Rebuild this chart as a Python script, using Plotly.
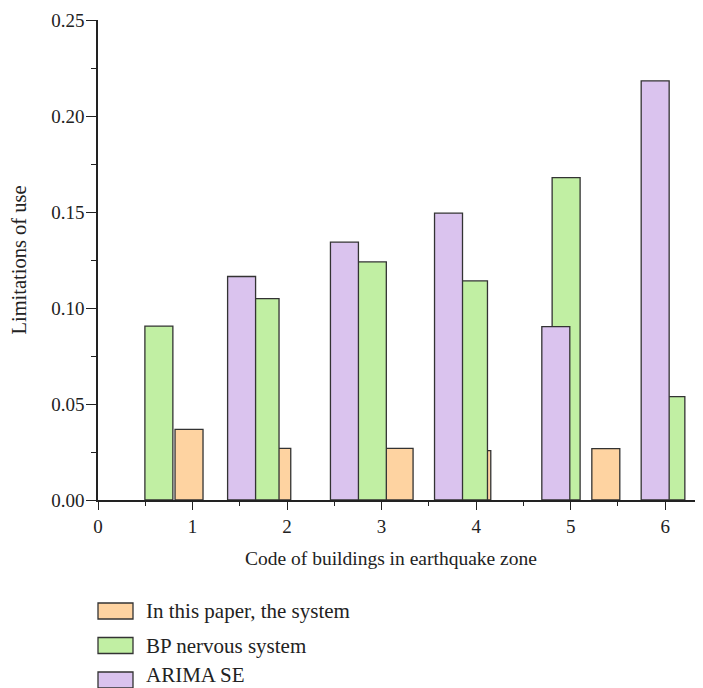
import plotly.graph_objects as go

# ---- data ----
series_names = ["In this paper, the system", "BP nervous system", "ARIMA SE"]

orange_x = [0.963, 1.891, 3.185, 4.007, 5.372]
orange_y = [0.0368, 0.0269, 0.0269, 0.0257, 0.0268]

green_x = [0.644, 1.767, 2.902, 3.972, 4.952, 6.060]
green_y = [0.0906, 0.1049, 0.1240, 0.1141, 0.1679, 0.0538]

purple_x = [1.519, 2.607, 3.708, 4.843, 5.894]
purple_y = [0.1164, 0.1343, 0.1494, 0.0903, 0.2183]

x_ticks = [0, 1, 2, 3, 4, 5, 6]
y_ticks = [0.00, 0.05, 0.10, 0.15, 0.20, 0.25]
y_tick_labels = ["0.00", "0.05", "0.10", "0.15", "0.20", "0.25"]
x_title = "Code of buildings in earthquake zone"
y_title = "Limitations of use"

# ---- style ----
OFF = 8                      # default page body margin
W, H = 703 - OFF, 688 - OFF
ML, MR, MT, MB = 98 - OFF, 0, 20 - OFF, 188
FONT = "Liberation Serif"
COLORS = ["#FED3A1", "#C1EFA3", "#DAC3EE"]
EDGE = "#333333"
TXT = "#222222"
BAR_W = 0.296

fig = go.Figure()
for xs, ys, col, name in [(orange_x, orange_y, COLORS[0], series_names[0]),
                          (green_x, green_y, COLORS[1], series_names[1]),
                          (purple_x, purple_y, COLORS[2], series_names[2])]:
    fig.add_trace(go.Bar(x=xs, y=ys, width=BAR_W, name=name,
                         marker=dict(color=col, line=dict(color=EDGE, width=1.3)),
                         showlegend=False))

# screen pixel -> paper conversion
pw = W - ML - MR
ph = H - MT - MB
def px2x(px):
    return (px - OFF - ML) / pw
def px2y(py):
    return (H - MB - (py - OFF)) / ph

# x axis title (slightly left of plot centre, as in the reference)
fig.add_annotation(xref="paper", yref="paper", x=px2x(391), y=px2y(558),
                   text=x_title, showarrow=False, xanchor="center", yanchor="middle",
                   font=dict(family=FONT, size=19.5, color=TXT))

# custom legend
row_tops = [603, 637.5, 672]
text_mid = [611, 645.5, 675]
for top, mid, col, name in zip(row_tops, text_mid, COLORS, series_names):
    fig.add_shape(type="rect", xref="paper", yref="paper",
                  x0=px2x(98), x1=px2x(133), y0=px2y(top), y1=px2y(top + 16),
                  fillcolor=col, line=dict(color=EDGE, width=1.3), layer="above")
    fig.add_annotation(xref="paper", yref="paper", x=px2x(144), y=px2y(mid),
                       text=name, showarrow=False, xanchor="left", yanchor="middle",
                       font=dict(family=FONT, size=21, color=TXT))

fig.update_layout(
    width=W, height=H,
    margin=dict(l=ML, r=MR, t=MT, b=MB),
    paper_bgcolor="white", plot_bgcolor="white",
    barmode="overlay",
    font=dict(family=FONT, size=19, color=TXT),
    xaxis=dict(range=[0, 6.4], tickvals=x_ticks, ticks="outside", ticklen=8, tickwidth=1.3,
               tickcolor=TXT, showline=True, linecolor=TXT, linewidth=1.5,
               showgrid=False, zeroline=False,
               minor=dict(dtick=0.5, tick0=0, ticks="outside", ticklen=4, tickwidth=1.2,
                          tickcolor=TXT, showgrid=False),
               tickfont=dict(family=FONT, size=19)),
    yaxis=dict(range=[0, 0.25], tickvals=y_ticks, ticktext=y_tick_labels, ticks="outside",
               ticklen=10, tickwidth=1.3, tickcolor=TXT, showline=True,
               linecolor=TXT, linewidth=1.5, showgrid=False, zeroline=False,
               ticklabelstandoff=-2,
               minor=dict(dtick=0.025, tick0=0, ticks="outside", ticklen=5, tickwidth=1.2,
                          tickcolor=TXT, showgrid=False),
               title=dict(text=y_title, font=dict(family=FONT, size=20.5),
                          standoff=20),
               tickfont=dict(family=FONT, size=19)),
)

fig.write_html("out.html")
